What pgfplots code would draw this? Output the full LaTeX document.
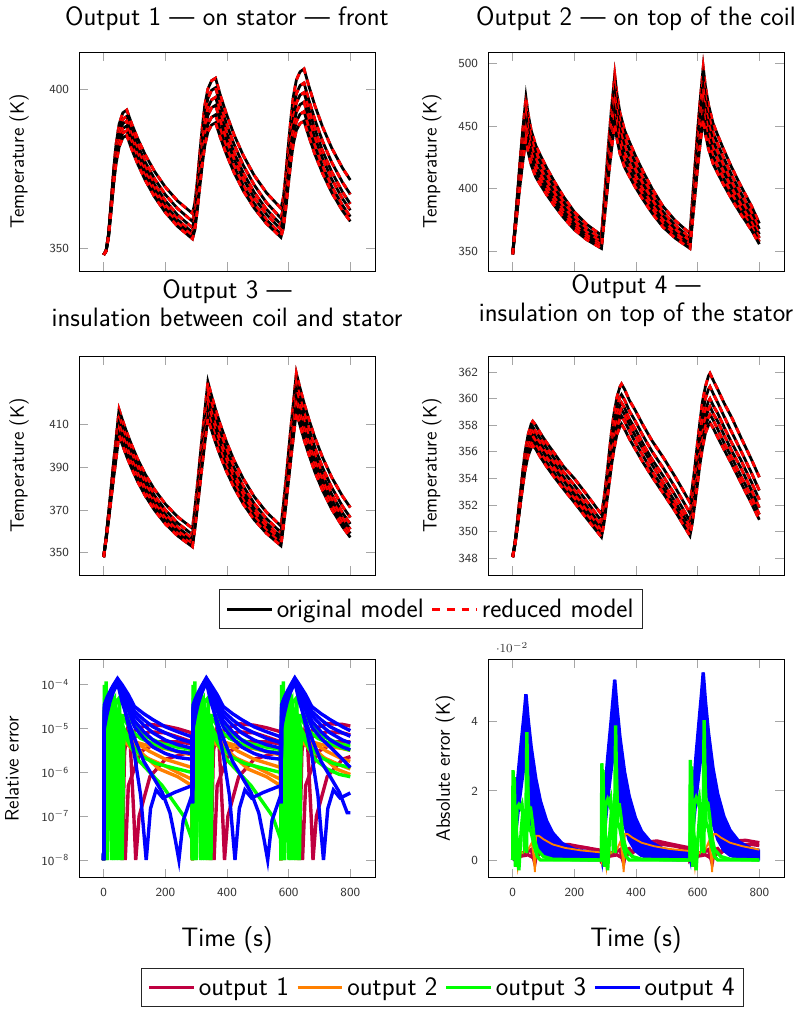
\documentclass[border=0pt]{standalone}
\usepackage{pgfplots}
\usepackage{pgfplotstable}
\pgfplotsset{compat=1.18}
\renewcommand{\familydefault}{\sfdefault}

\pgfplotstableread{
t a b c d e f
0 348 348 348 348 348 348
8 349.4 349.3 349.3 349.2 349.2 349.1
16 354.8 354.5 354.3 354.1 353.9 353.6
24 364.4 363.7 363.1 362.6 362.0 361.5
32 374.4 373.2 372.4 371.5 370.6 369.8
40 382.6 381.1 379.9 378.8 377.6 376.5
50 389.0 387.2 385.8 384.5 383.1 381.8
62 392.6 390.6 389.2 387.7 386.2 384.8
75 393.5 391.5 390.0 388.5 387.0 385.5
90 389.4 387.3 385.8 384.3 382.8 381.4
110 384.6 382.5 380.8 379.3 378.0 376.6
135 379.4 377.1 375.4 373.9 372.6 371.4
165 374.2 371.9 370.1 368.6 367.4 366.2
200 369.3 366.9 365.0 363.5 362.4 361.3
240 364.9 362.5 360.5 359.0 358.0 356.9
288 361.0 358.5 356.5 355.0 354.0 353.0
296 364.4 361.9 359.8 358.2 357.0 355.9
304 371.6 369.0 366.8 365.0 363.5 362.1
312 380.1 377.4 375.0 373.0 371.1 369.4
320 388.2 385.4 382.7 380.6 378.3 376.4
328 395.0 392.1 389.3 387.0 384.4 382.2
338 400.1 397.1 394.2 391.8 389.0 386.6
350 402.7 399.7 396.7 394.2 391.2 388.8
363 403.5 400.5 397.5 395.0 392.0 389.5
378 398.3 395.3 392.5 390.1 387.3 385.0
398 392.3 389.3 386.5 384.3 381.7 379.6
423 385.7 382.7 380.1 378.0 375.7 373.8
453 379.2 376.1 373.7 371.8 369.7 368.1
488 373.0 370.0 367.7 365.9 364.1 362.7
528 367.5 364.4 362.3 360.7 359.0 357.8
575 362.6 359.5 357.5 356.0 354.5 353.5
583 366.1 362.9 360.8 359.2 357.6 356.4
591 373.6 370.1 367.9 366.0 364.1 362.6
599 382.3 378.6 376.2 374.0 371.8 369.9
607 390.6 386.7 384.1 381.6 379.1 376.9
615 397.6 393.5 390.7 388.0 385.3 382.7
625 402.9 398.6 395.7 392.8 389.9 387.1
637 405.5 401.2 398.2 395.2 392.2 389.3
650 406.4 402.0 399.0 396.0 393.0 390.0
665 401.2 396.8 393.8 390.9 388.1 385.3
685 394.9 390.5 387.5 384.8 382.1 379.6
710 388.2 383.7 380.7 378.3 375.8 373.6
740 381.5 377.0 374.0 371.7 369.4 367.5
775 375.2 370.7 367.7 365.6 363.5 361.8
800 371.5 367.0 364.0 362.0 360.0 358.5
}\tA

\pgfplotstableread{
t a b c d e f
0 348 348 348 348 348 348
8 373.0 371.6 370.2 368.8 367.6 366.4
16 398.0 395.2 392.4 389.6 387.2 384.8
24 423.0 418.8 414.6 410.4 406.8 403.2
32 445.5 440.0 434.6 429.1 424.4 419.8
40 465.5 458.9 452.3 445.8 440.1 434.5
43 473 466 459 452 446 440
50 459.8 453.3 446.8 440.4 435.0 429.5
60 446.6 440.6 434.6 428.8 423.9 419.0
75 434.5 428.9 423.5 418.2 413.8 409.4
90 426.8 421.5 416.4 411.5 407.4 403.3
110 416.9 411.9 407.2 402.8 399.1 395.4
135 405.9 401.3 397.1 393.1 389.9 386.7
165 393.8 389.7 385.9 382.5 379.8 377.1
200 381.7 378.0 374.8 371.9 369.6 367.5
240 371.8 368.5 365.6 363.2 361.4 359.6
288 363.0 360.0 357.5 355.5 354.0 352.6
296 388.6 384.6 381.0 377.8 375.2 372.5
304 414.2 409.2 404.5 400.1 396.4 392.4
312 439.8 433.8 428.0 422.4 417.6 412.2
320 462.8 455.9 449.2 442.5 436.7 430.1
328 483.3 475.6 468.0 460.3 453.6 446.0
331 491 483 475 467 460 452
338 475.8 468.4 461.0 453.7 447.3 440.1
348 460.6 453.7 447.0 440.4 434.6 428.1
363 446.7 440.3 434.2 428.2 422.9 417.2
378 437.9 431.8 426.1 420.4 415.5 410.3
398 426.5 420.8 415.6 410.4 405.9 401.3
423 413.8 408.6 403.9 399.3 395.3 391.4
453 399.9 395.2 391.1 387.1 383.7 380.4
488 386.0 381.7 378.3 374.9 372.0 369.5
528 374.6 370.8 367.8 364.9 362.5 360.6
575 364.5 361.0 358.5 356.0 354.0 352.6
583 391.0 386.4 382.8 379.2 376.0 373.3
591 417.5 411.8 407.1 402.4 398.0 394.0
599 444.0 437.2 431.4 425.6 420.0 414.6
607 467.9 460.1 453.3 446.5 439.8 433.3
615 489.1 480.4 472.7 465.0 457.4 449.8
618 497 488 480 472 464 456
625 482.1 473.6 466.1 458.7 451.3 444.0
635 467.1 459.2 452.2 445.4 438.6 432.0
650 452.2 444.8 438.2 432.0 425.8 420.0
665 442.8 435.8 429.5 423.7 417.9 412.5
685 431.0 424.4 418.5 413.2 407.8 403.0
710 417.3 411.2 405.8 401.0 396.2 392.0
740 402.4 396.8 391.8 387.6 383.4 380.0
775 386.2 381.2 376.8 373.2 369.7 367.0
800 372.5 368.0 364.0 361.0 358.0 356.0
}\tB

\pgfplotstableread{
t a b c d e f
0 348 348 348 348 348 348
8 357.7 357.3 357.0 356.7 356.3 356.0
16 368.7 368.0 367.2 366.6 365.9 365.1
24 380.4 379.3 378.1 377.1 376.0 374.8
32 392.2 390.6 389.0 387.7 386.1 384.5
40 403.2 401.2 399.2 397.6 395.6 393.6
50 417 414.5 412 410 407.5 405
60 412.5 410.0 407.5 405.5 403.2 400.8
75 406.3 403.7 401.3 399.4 397.1 394.9
90 400.7 398.0 395.7 393.8 391.7 389.7
110 393.9 391.3 389.0 387.2 385.2 383.3
135 386.7 384.0 381.8 380.0 378.2 376.6
165 379.6 376.8 374.6 373.0 371.4 369.9
200 372.8 370.0 367.9 366.3 364.8 363.5
240 366.8 363.9 361.9 360.3 359.0 357.9
288 361.4 358.5 356.5 355.0 353.8 352.8
296 371.0 368.0 365.7 364.0 362.5 361.2
304 382.0 378.8 376.2 374.2 372.5 370.9
312 393.6 390.2 387.3 385.1 383.0 381.1
320 405.3 401.7 398.4 396.0 393.6 391.3
328 416.3 412.5 408.9 406.2 403.6 401.0
338 430 426 422 419 416 413
348 424.5 420.6 416.8 413.9 411.0 408.2
363 417.0 413.2 409.6 406.8 404.1 401.5
378 410.2 406.4 403.0 400.5 397.9 395.4
398 402.0 398.4 395.2 392.9 390.5 388.2
423 393.2 389.8 386.8 384.7 382.5 380.5
453 384.6 381.2 378.6 376.6 374.6 372.8
488 376.3 373.1 370.7 368.9 367.1 365.5
528 369.0 366.0 363.8 362.1 360.5 359.1
575 362.5 359.5 357.5 356.0 354.5 353.3
583 372.5 369.3 367.0 365.2 363.5 362.1
591 384.0 380.5 377.9 375.8 373.9 372.1
599 396.1 392.4 389.5 387.0 384.8 382.8
607 408.3 404.3 401.0 398.2 395.8 393.4
615 419.7 415.5 411.9 408.8 406.1 403.5
625 434 429.5 425.5 422 419 416
635 428.1 423.6 419.7 416.3 413.4 410.5
650 420.0 415.5 411.7 408.4 405.6 402.9
665 412.7 408.1 404.5 401.3 398.7 396.1
685 403.9 399.3 395.8 392.8 390.3 387.8
710 394.6 389.9 386.6 383.7 381.3 379.1
740 385.2 380.5 377.3 374.6 372.4 370.3
775 376.4 371.7 368.6 366.1 364.0 362.1
800 371.2 366.5 363.5 361.0 359.0 357.2
}\tC

\pgfplotstableread{
t a b c d e f
0 348.1 348.1 348.1 348.1 348.1 348.1
8 349.3 349.3 349.2 349.2 349.1 349.1
16 351.0 350.8 350.7 350.6 350.5 350.5
24 352.7 352.5 352.3 352.2 352.0 351.9
32 354.4 354.2 353.9 353.7 353.5 353.3
40 356.0 355.6 355.3 355.1 354.8 354.6
50 357.3 356.9 356.6 356.3 355.9 355.7
60 358.1 357.7 357.3 357.0 356.6 356.3
65 358.3 357.9 357.5 357.2 356.8 356.5
75 358.0 357.5 357.1 356.8 356.5 356.2
90 357.4 357.0 356.6 356.3 355.9 355.6
110 356.7 356.3 355.9 355.6 355.2 354.9
135 355.9 355.5 355.1 354.8 354.4 354.1
165 354.9 354.5 354.1 353.8 353.4 353.2
200 354.0 353.5 353.1 352.8 352.5 352.2
240 352.8 352.3 351.9 351.6 351.3 351.0
288 351.3 350.8 350.4 350.1 349.8 349.6
296 352.5 351.9 351.5 351.2 350.9 350.6
304 354.0 353.5 353.0 352.6 352.3 352.0
312 355.7 355.1 354.6 354.2 353.8 353.4
320 357.4 356.7 356.2 355.7 355.3 354.9
328 358.8 358.1 357.6 357.1 356.7 356.1
338 360.1 359.4 358.8 358.3 357.8 357.3
348 360.9 360.1 359.5 359.0 358.5 357.9
353 361.1 360.3 359.7 359.2 358.7 358.1
363 360.7 359.9 359.3 358.8 358.3 357.7
378 359.9 359.1 358.5 358.1 357.6 357.0
398 359.1 358.3 357.7 357.2 356.7 356.2
423 358.0 357.2 356.6 356.2 355.7 355.2
453 356.8 356.0 355.4 355.0 354.5 354.1
488 355.6 354.8 354.2 353.7 353.3 352.9
528 354.1 353.3 352.7 352.2 351.8 351.5
575 352.2 351.4 350.8 350.4 350.0 349.7
583 353.4 352.5 351.9 351.5 351.1 350.7
591 354.9 354.1 353.4 352.9 352.5 352.1
599 356.6 355.7 354.9 354.5 354.0 353.5
607 358.2 357.3 356.5 356.0 355.5 355.0
615 359.7 358.7 357.9 357.3 356.8 356.2
625 360.9 360.0 359.1 358.5 357.9 357.4
635 361.7 360.7 359.8 359.2 358.6 358.0
640 361.9 360.9 360.0 359.4 358.8 358.2
650 361.4 360.4 359.5 358.9 358.4 357.8
665 360.7 359.7 358.9 358.3 357.7 357.1
685 359.7 358.7 357.9 357.3 356.7 356.2
710 358.6 357.5 356.7 356.1 355.6 355.1
740 357.1 356.1 355.4 354.8 354.2 353.7
775 355.4 354.4 353.7 353.1 352.6 352.1
800 354.1 353.1 352.4 351.8 351.3 350.9
}\tD

\pgfplotsset{
  base/.style={scale only axis, width=192.2pt, height=142.2pt,
    xmin=-80, xmax=880, xtick={0,200,400,600,800},
    axis line style={line width=0.6pt},
    major tick length=6pt, tick style={gray!70, line width=0.6pt},
    tick label style={font=\fontsize{8}{9.5}\selectfont, text=black!80},
    /pgf/number format/assume math mode=true,
    xticklabel shift=3pt, yticklabel shift=3pt,
    title style={font=\fontsize{17.28}{18.4}\selectfont, align=center, at={(0.5,1)}, anchor=south, yshift=9.5pt},
    every axis y label/.style={at={(axis description cs:0,0.5)}, xshift=-#1, rotate=90, anchor=center, font=\fontsize{12.6}{15}\selectfont},
    every axis x label/.style={at={(axis description cs:0.5,0)}, yshift=-40.3pt, anchor=center, font=\fontsize{17.28}{20}\selectfont},
    legend image code/.code={\draw[##1] (0pt,0pt) -- (29pt,0pt);},
    legend style={draw=black!85, line width=0.6pt, font=\fontsize{17.28}{20}\selectfont, inner ysep=4pt, inner xsep=4pt, anchor=center,
      /tikz/every even column/.append style={column sep=2.5pt}},
  },
  single/.style={title style={yshift=-5pt}},
  orig/.style={black, line width=1.8pt, forget plot},
  redu/.style={red, line width=1.8pt, dash pattern=on 4pt off 4pt, forget plot},
  e1/.style={purple, line width=2.2pt, forget plot},
  e2/.style={orange, line width=2.2pt, forget plot},
  e3/.style={green, line width=2.2pt, forget plot},
  e4/.style={blue, line width=2.2pt, forget plot},
}

\begin{document}
\begin{tikzpicture}
\useasboundingbox (0,0) rectangle (522.1pt,-656.5pt);

% ---------- Output 1
\begin{axis}[base=39pt, single, at={(51.3pt,-33.8pt)}, anchor=north west,
  title={Output 1 — on stator — front}, ylabel={Temperature (K)},
  ymin=342.9, ymax=411.7, ytick={350,400}, xticklabels={}]
\pgfplotsinvokeforeach{a,b,c,d,e,f}{
  \addplot[orig] table[x=t,y=#1]{\tA};
  \addplot[redu] table[x=t,y=#1]{\tA};
}
\end{axis}

% ---------- Output 2
\begin{axis}[base=36.6pt, single, at={(316.9pt,-33.8pt)}, anchor=north west,
  title={Output 2 — on top of the coil}, ylabel={Temperature (K)},
  ymin=334.6, ymax=509, ytick={350,400,450,500}, xticklabels={}]
\pgfplotsinvokeforeach{a,b,c,d,e,f}{
  \addplot[orig] table[x=t,y=#1]{\tB};
  \addplot[redu] table[x=t,y=#1]{\tB};
}
\end{axis}

% ---------- Output 3 (with legend)
\begin{axis}[base=39pt, at={(51.3pt,-231.2pt)}, anchor=north west,
  title={Output 3 —\\insulation between coil and stator}, ylabel={Temperature (K)},
  ymin=339.6, ymax=442, ytick={350,370,390,410}, xticklabels={},
  legend columns=2, legend style={at={(1.190,-0.156)}},
  legend cell align=left]
\addlegendimage{black, line width=2.2pt}
\addlegendentry{original model}
\addlegendimage{red, line width=2.2pt, dash pattern=on 5pt off 4.5pt}
\addlegendentry{reduced model}
\pgfplotsinvokeforeach{a,b,c,d,e,f}{
  \addplot[orig] table[x=t,y=#1]{\tC};
  \addplot[redu] table[x=t,y=#1]{\tC};
}
\end{axis}

% ---------- Output 4
\begin{axis}[base=36.6pt, at={(316.9pt,-231.2pt)}, anchor=north west,
  title={Output 4 —\\insulation on top of the stator}, ylabel={Temperature (K)},
  ymin=346.75, ymax=363.2, ytick={348,350,...,362}, xticklabels={}]
\pgfplotsinvokeforeach{a,b,c,d,e,f}{
  \addplot[orig] table[x=t,y=#1]{\tD};
  \addplot[redu] table[x=t,y=#1]{\tD};
}
\end{axis}

% ---------- Relative error
\begin{axis}[base=43.5pt, at={(51.3pt,-427.9pt)}, anchor=north west,
  ymode=log, ymin=3.9e-9, ymax=3.9e-4, yminorticks=false,
  ytick={1e-8,1e-7,1e-6,1e-5,1e-4},
  yticklabels={10\textsuperscript{$-$8},10\textsuperscript{$-$7},10\textsuperscript{$-$6},10\textsuperscript{$-$5},10\textsuperscript{$-$4}},
  ylabel={Relative error}, xlabel={Time (s)},
  legend columns=4, legend style={at={(1.228,-0.5)}},
  legend cell align=left]
\addlegendimage{purple, line width=2.5pt}\addlegendentry{output 1}
\addlegendimage{orange, line width=2.5pt}\addlegendentry{output 2}
\addlegendimage{green, line width=2.5pt}\addlegendentry{output 3}
\addlegendimage{blue, line width=2.5pt}\addlegendentry{output 4}
% output 1
\addplot[e1] coordinates {(0,1e-8)(5,2e-6)(15,5e-6)(30,8e-6)(45,7e-6)(60,6e-6)(80,7e-6)(110,1e-5)(150,1.25e-5)(200,1.15e-5)(240,1e-5)(286,8e-6)
(288,1e-8)(293,2e-6)(303,5e-6)(318,8e-6)(333,7e-6)(348,6e-6)(368,7e-6)(398,1e-5)(438,1.3e-5)(488,1.2e-5)(528,1.05e-5)(574,8.5e-6)
(575,1e-8)(580,2e-6)(590,5e-6)(605,8e-6)(620,7e-6)(635,6e-6)(655,7e-6)(685,1e-5)(725,1.3e-5)(775,1.25e-5)(800,1.15e-5)};
\addplot[e1] coordinates {(0,1e-8)(10,3e-6)(30,6e-6)(60,3e-6)(80,5e-6)(110,7e-6)(150,8.5e-6)(200,8e-6)(240,6.5e-6)(286,5e-6)
(288,1e-8)(298,3e-6)(318,6e-6)(348,3e-6)(368,5e-6)(398,7e-6)(438,8.5e-6)(488,8e-6)(528,6.5e-6)(574,5e-6)
(575,1e-8)(585,3e-6)(605,6e-6)(635,3e-6)(655,5e-6)(685,7e-6)(725,8.5e-6)(775,8e-6)(800,7.2e-6)};
\addplot[e1] coordinates {(0,1e-8)(10,2e-6)(30,3e-6)(50,1e-6)(60,1e-8)(68,3e-6)(76,8e-6)(86,5e-6)(98,1e-7)(104,1e-8)(115,1e-7)(150,8e-7)(200,2e-6)(286,3e-6)
(288,1e-8)(298,2e-6)(318,3e-6)(338,1e-6)(348,1e-8)(356,3e-6)(364,8e-6)(374,5e-6)(386,1e-7)(392,1e-8)(403,1e-7)(438,8e-7)(488,2e-6)(574,3e-6)
(575,1e-8)(585,2e-6)(605,3e-6)(625,1e-6)(635,1e-8)(643,3e-6)(651,8e-6)(661,5e-6)(673,1e-7)(679,1e-8)(690,1e-7)(725,8e-7)(775,2e-6)(800,2.3e-6)};
\addplot[e1] coordinates {(0,1e-8)(10,1e-6)(40,2e-6)(62,1e-7)(70,1e-8)(80,5e-7)(120,3e-6)(180,5e-6)(240,5e-6)(286,4.5e-6)
(288,1e-8)(298,1e-6)(328,2e-6)(350,1e-7)(358,1e-8)(368,5e-7)(408,3e-6)(468,5e-6)(528,5e-6)(574,4.5e-6)
(575,1e-8)(585,1e-6)(615,2e-6)(637,1e-7)(645,1e-8)(655,5e-7)(695,3e-6)(755,5e-6)(800,5e-6)};
% output 2
\addplot[e2] coordinates {(0,1e-8)(2,3e-5)(10,1.5e-5)(20,2.5e-5)(30,1e-5)(38,2e-5)(46,3e-8)(52,1.2e-5)(70,5e-6)(100,3e-6)(150,2e-6)(200,1.4e-6)(240,1e-6)(286,7e-7)
(288,1e-8)(290,3e-5)(298,1.5e-5)(308,2.5e-5)(318,1e-5)(326,2e-5)(334,3e-8)(340,1.2e-5)(358,5e-6)(388,3e-6)(438,2e-6)(488,1.4e-6)(528,1e-6)(574,7e-7)
(575,1e-8)(577,3e-5)(585,1.5e-5)(595,2.5e-5)(605,1e-5)(613,2e-5)(621,3e-8)(627,1.2e-5)(645,5e-6)(675,3e-6)(725,2e-6)(775,1.4e-6)(800,1.2e-6)};
\addplot[e2] coordinates {(0,1e-8)(3,2e-5)(15,3e-5)(30,2e-5)(45,1.5e-5)(50,3e-8)(56,1e-5)(70,8e-6)(100,5e-6)(150,3e-6)(200,2e-6)(286,1.3e-6)
(288,1e-8)(291,2e-5)(303,3e-5)(318,2e-5)(333,1.5e-5)(338,1e-8)(344,1e-5)(358,8e-6)(388,5e-6)(438,3e-6)(488,2e-6)(574,1.3e-6)
(575,1e-8)(578,2e-5)(590,3e-5)(605,2e-5)(620,1.5e-5)(625,1e-8)(631,1e-5)(645,8e-6)(675,5e-6)(725,3e-6)(775,2e-6)(800,1.8e-6)};
\addplot[e2] coordinates {(0,1e-8)(3,1.5e-5)(20,2e-5)(40,1.5e-5)(60,1e-5)(90,5e-6)(130,2.5e-6)(180,1.2e-6)(240,8e-7)(286,5e-7)
(288,1e-7)(291,1.5e-5)(308,2e-5)(328,1.5e-5)(348,1e-5)(378,5e-6)(418,2.5e-6)(468,1.2e-6)(528,8e-7)(574,5e-7)
(575,1e-7)(578,1.5e-5)(595,2e-5)(615,1.5e-5)(635,1e-5)(665,5e-6)(705,2.5e-6)(755,1.2e-6)(800,9e-7)};
\addplot[e2] coordinates {(0,1e-8)(4,1e-5)(20,1.5e-5)(45,1.2e-5)(70,7e-6)(100,5e-6)(150,4e-6)(200,3.5e-6)(286,2.5e-6)
(288,1e-8)(292,1e-5)(308,1.5e-5)(333,1.2e-5)(358,7e-6)(388,5e-6)(438,4e-6)(488,3.5e-6)(574,2.5e-6)
(575,1e-8)(579,1e-5)(595,1.5e-5)(620,1.2e-5)(645,7e-6)(675,5e-6)(725,4e-6)(775,3.5e-6)(800,3.2e-6)};
% output 3
\addplot[e3] coordinates {(0,1e-8)(2,1e-4)(5,3e-5)(8,1.2e-4)(12,1.3e-7)(18,4e-5)(28,3.5e-5)(35,4.5e-5)(40,1e-8)(45,3e-5)(52,1.5e-5)(60,1e-8)(66,1e-5)(80,6e-6)(100,3.5e-6)(130,2.2e-6)(170,1.6e-6)(220,1.3e-6)(286,1e-6)
(288,1e-8)(290,1e-4)(293,3e-5)(296,1.2e-4)(300,1.3e-7)(306,4e-5)(316,3.5e-5)(323,4.5e-5)(328,1e-8)(333,3e-5)(340,1.5e-5)(348,1e-8)(354,1e-5)(368,6e-6)(388,3.5e-6)(418,2.2e-6)(458,1.6e-6)(508,1.3e-6)(574,1e-6)
(575,1e-8)(577,1e-4)(580,3e-5)(583,1.2e-4)(587,1.3e-7)(593,4e-5)(603,3.5e-5)(610,4.5e-5)(615,1e-8)(620,3e-5)(627,1.5e-5)(635,1e-8)(641,1e-5)(655,6e-6)(675,3.5e-6)(705,2.2e-6)(745,1.6e-6)(800,1.3e-6)};
\addplot[e3] coordinates {(0,1e-8)(3,5e-5)(10,1e-8)(15,4e-5)(22,2e-5)(30,4e-5)(36,1e-7)(42,3e-5)(48,1e-8)(55,2e-5)(70,1.5e-5)(90,9e-6)(120,6e-6)(160,4.5e-6)(200,3.6e-6)(240,3.1e-6)(286,2.8e-6)
(288,1e-8)(291,5e-5)(298,1e-8)(303,4e-5)(310,2e-5)(318,4e-5)(324,1e-7)(330,3e-5)(336,1e-8)(343,2e-5)(358,1.5e-5)(378,9e-6)(408,6e-6)(448,4.5e-6)(488,3.6e-6)(528,3.1e-6)(574,2.8e-6)
(575,1e-8)(578,5e-5)(585,1e-8)(590,4e-5)(597,2e-5)(605,4e-5)(611,1e-7)(617,3e-5)(623,1e-8)(630,2e-5)(645,1.5e-5)(665,9e-6)(695,6e-6)(735,4.5e-6)(775,3.6e-6)(800,3.2e-6)};
\addplot[e3] coordinates {(0,1e-8)(4,8e-5)(14,1e-7)(20,3e-5)(26,1e-8)(33,4e-5)(44,2e-5)(52,3e-5)(58,1e-8)(64,8e-6)(80,5e-6)(110,2e-6)(150,1e-6)(190,5e-7)(230,2e-7)(260,1e-7)(286,3e-8)
(288,1e-8)(292,8e-5)(302,1e-7)(308,3e-5)(314,1e-8)(321,4e-5)(332,2e-5)(340,3e-5)(346,1e-8)(352,8e-6)(368,5e-6)(398,2e-6)(438,1e-6)(478,5e-7)(518,2e-7)(548,1e-7)(574,3e-8)
(575,1e-8)(579,8e-5)(589,1e-7)(595,3e-5)(601,1e-8)(608,4e-5)(619,2e-5)(627,3e-5)(633,1e-8)(639,8e-6)(655,5e-6)(685,2e-6)(725,1.2e-6)(765,9e-7)(800,8e-7)};
\addplot[e3] coordinates {(0,1e-8)(6,4e-5)(12,1e-8)(24,4e-5)(32,1e-8)(38,4e-5)(50,5e-5)(56,2e-7)(62,2e-5)(75,2e-5)(100,1.2e-5)(140,6.5e-6)(190,4.5e-6)(240,3.8e-6)(286,3.4e-6)
(288,1e-8)(294,4e-5)(300,1e-8)(312,4e-5)(320,1e-8)(326,4e-5)(338,5e-5)(344,2e-7)(350,2e-5)(363,2e-5)(388,1.2e-5)(428,6.5e-6)(478,4.5e-6)(528,3.8e-6)(574,3.4e-6)
(575,1e-8)(581,4e-5)(587,1e-8)(599,4e-5)(607,1e-8)(613,4e-5)(625,5e-5)(631,2e-7)(637,2e-5)(650,2e-5)(675,1.2e-5)(715,6.5e-6)(765,4.5e-6)(800,4e-6)};
% output 4
\addplot[e4] coordinates {(0,1e-8)(2,3.5e-5)(10,5e-5)(20,7e-5)(30,9.5e-5)(45,1.4e-4)(60,1e-4)(80,6e-5)(100,3.2e-5)(130,2.2e-5)(160,1.6e-5)(200,1.1e-5)(240,8.5e-6)(286,6.5e-6)
(288,2e-7)(290,3.5e-5)(298,5e-5)(308,7e-5)(318,9.5e-5)(333,1.45e-4)(348,1e-4)(368,6e-5)(388,3.2e-5)(418,2.2e-5)(448,1.6e-5)(488,1.1e-5)(528,8.5e-6)(574,6.5e-6)
(575,2e-7)(577,3.5e-5)(585,5e-5)(595,7e-5)(605,9.5e-5)(620,1.45e-4)(635,1e-4)(655,6e-5)(675,3.2e-5)(705,2.2e-5)(735,1.6e-5)(775,1.1e-5)(800,9e-6)};
\addplot[e4] coordinates {(0,1e-8)(2,3e-5)(10,4.5e-5)(20,6.5e-5)(30,9e-5)(45,1.35e-4)(60,9e-5)(80,5e-5)(100,2.5e-5)(130,1.6e-5)(160,1.1e-5)(200,8e-6)(240,6e-6)(286,4.8e-6)
(288,2e-7)(290,3e-5)(298,4.5e-5)(308,6.5e-5)(318,9e-5)(333,1.4e-4)(348,9e-5)(368,5e-5)(388,2.5e-5)(418,1.6e-5)(448,1.1e-5)(488,8e-6)(528,6e-6)(574,4.8e-6)
(575,2e-7)(577,3e-5)(585,4.5e-5)(595,6.5e-5)(605,9e-5)(620,1.4e-4)(635,9e-5)(655,5e-5)(675,2.5e-5)(705,1.6e-5)(735,1.1e-5)(775,8e-6)(800,6.7e-6)};
\addplot[e4] coordinates {(0,1e-8)(2,2.5e-5)(10,4e-5)(20,6e-5)(30,8.5e-5)(45,1.3e-4)(60,8e-5)(80,4e-5)(100,2e-5)(130,1.2e-5)(160,8e-6)(200,5.5e-6)(240,4.3e-6)(286,3.6e-6)
(288,2e-7)(290,2.5e-5)(298,4e-5)(308,6e-5)(318,8.5e-5)(333,1.35e-4)(348,8e-5)(368,4e-5)(388,2e-5)(418,1.2e-5)(448,8e-6)(488,5.5e-6)(528,4.3e-6)(574,3.6e-6)
(575,2e-7)(577,2.5e-5)(585,4e-5)(595,6e-5)(605,8.5e-5)(620,1.35e-4)(635,8e-5)(655,4e-5)(675,2e-5)(705,1.2e-5)(735,8e-6)(775,5.5e-6)(800,4.7e-6)};
\addplot[e4] coordinates {(0,1e-8)(2,2e-5)(10,3.5e-5)(20,5.5e-5)(30,8e-5)(45,1.25e-4)(60,7e-5)(80,3.3e-5)(100,1.5e-5)(130,8.5e-6)(160,5.5e-6)(200,3.8e-6)(240,3e-6)(286,2.7e-6)
(288,2e-7)(290,2e-5)(298,3.5e-5)(308,5.5e-5)(318,8e-5)(333,1.3e-4)(348,7e-5)(368,3.3e-5)(388,1.5e-5)(418,8.5e-6)(448,5.5e-6)(488,3.8e-6)(528,3e-6)(574,2.7e-6)
(575,2e-7)(577,2e-5)(585,3.5e-5)(595,5.5e-5)(605,8e-5)(620,1.3e-4)(635,7e-5)(655,3.3e-5)(675,1.5e-5)(705,8.5e-6)(735,5.5e-6)(775,3.8e-6)(800,3.3e-6)};
\addplot[e4] coordinates {(0,1e-8)(2,1.5e-5)(10,3e-5)(20,5e-5)(30,7.5e-5)(45,1.2e-4)(60,6e-5)(80,2.6e-5)(100,1.1e-5)(130,6e-6)(160,3.8e-6)(200,2.7e-6)(240,2.2e-6)(286,2e-6)
(288,2e-7)(290,1.5e-5)(298,3e-5)(308,5e-5)(318,7.5e-5)(333,1.25e-4)(348,6e-5)(368,2.6e-5)(388,1.1e-5)(418,6e-6)(448,3.8e-6)(488,2.7e-6)(528,2.2e-6)(574,2e-6)
(575,2e-7)(577,1.5e-5)(585,3e-5)(595,5e-5)(605,7.5e-5)(620,1.25e-4)(635,6e-5)(655,2.6e-5)(675,1.1e-5)(705,6e-6)(735,3.8e-6)(775,2e-6)(800,1.3e-6)};
\addplot[e4] coordinates {(0,1e-8)(2,1.2e-5)(10,2.5e-5)(20,4.5e-5)(30,7e-5)(45,1.15e-4)(60,5e-5)(80,1.2e-5)(100,2.5e-6)(120,3e-7)(138,1e-8)(152,1.5e-7)(170,4e-7)(192,2.6e-7)(230,3.5e-7)(286,5e-7)
(288,2e-7)(290,1.2e-5)(298,2.5e-5)(308,4.5e-5)(318,7e-5)(333,1.2e-4)(348,5e-5)(368,1.2e-5)(388,2.5e-6)(408,3e-7)(426,1e-8)(440,1.5e-7)(458,4e-7)(480,2.6e-7)(518,3.5e-7)(574,5e-7)
(575,2e-7)(577,1.2e-5)(585,2.5e-5)(595,4.5e-5)(605,7e-5)(620,1.2e-4)(635,5e-5)(655,1.2e-5)(675,2.5e-6)(695,3e-7)(713,1e-8)(727,1.5e-7)(745,4e-7)(767,2.6e-7)(800,3.4e-7)};
\addplot[e4] coordinates {(0,1e-8)(2,1e-5)(10,2e-5)(20,4e-5)(30,6.5e-5)(45,1.1e-4)(60,4e-5)(80,1.5e-5)(100,6e-6)(130,1.8e-6)(160,8e-7)(190,3.5e-7)(215,1.2e-7)(232,3e-8)(244,1e-8)(258,8e-8)(286,3e-7)
(288,2e-7)(290,1e-5)(298,2e-5)(308,4e-5)(318,6.5e-5)(333,1.15e-4)(348,4e-5)(368,1.5e-5)(388,6e-6)(418,1.8e-6)(448,8e-7)(478,3.5e-7)(503,1.2e-7)(520,3e-8)(532,1e-8)(546,8e-8)(574,3e-7)
(575,2e-7)(577,1e-5)(585,2e-5)(595,4e-5)(605,6.5e-5)(620,1.15e-4)(635,4e-5)(655,1.5e-5)(675,6e-6)(705,1.8e-6)(735,8e-7)(765,3.5e-7)(790,1.2e-7)(800,1.2e-7)};
\end{axis}

% ---------- Absolute error (values in units of 1e-2 K)
\begin{axis}[base=27.9pt, at={(316.9pt,-427.9pt)}, anchor=north west,
  ymin=-0.52, ymax=5.82, ytick={0,2,4},
  ylabel={Absolute error (K)}, xlabel={Time (s)},
  extra description/.code={\node[anchor=south west, font=\fontsize{8}{9.5}\selectfont, text=black!80, inner sep=1pt] at ([xshift=4pt,yshift=3pt]axis description cs:0,1) {$\cdot 10^{-2}$};}]
% output 1
\addplot[e1] coordinates {(0,0)(10,0.1)(30,0.2)(50,0.25)(60,0.3)(66,0.1)(72,-0.1)(80,0.3)(90,0.32)(100,0.2)(120,0.3)(150,0.45)(180,0.45)(220,0.38)(286,0.28)
(288,0)(298,0.1)(318,0.2)(338,0.25)(348,0.3)(354,0.1)(360,-0.1)(368,0.3)(378,0.33)(388,0.2)(408,0.35)(438,0.52)(468,0.55)(508,0.47)(574,0.35)
(575,0)(585,0.1)(605,0.2)(625,0.25)(635,0.3)(641,0.1)(647,-0.1)(655,0.3)(665,0.33)(675,0.2)(695,0.35)(725,0.55)(755,0.57)(800,0.5)};
\addplot[e1] coordinates {(0,0)(20,0.1)(50,0.15)(70,0.05)(90,0.2)(120,0.3)(160,0.4)(200,0.4)(240,0.35)(286,0.25)
(288,0)(308,0.1)(338,0.15)(358,0.05)(378,0.2)(408,0.35)(448,0.45)(488,0.45)(528,0.4)(574,0.3)
(575,0)(595,0.1)(625,0.15)(645,0.05)(665,0.2)(695,0.35)(735,0.45)(775,0.45)(800,0.42)};
% output 4: band between the upper and the lower of the traced curves
\addplot[blue, fill=blue, line width=1pt, forget plot] coordinates {
(0,0)(3,0.8)(10,1.7)(20,2.7)(30,3.6)(38,4.3)(43,4.8)(50,4.09)(60,3.27)(75,2.35)(90,1.7)(110,1.13)(130,0.78)(160,0.48)(200,0.31)(240,0.24)(286,0.2)
(288,0.1)(291,0.9)(298,1.85)(308,2.95)(318,3.9)(326,4.7)(331,5.22)(338,4.45)(348,3.55)(363,2.54)(378,1.84)(398,1.22)(418,0.83)(448,0.51)(488,0.32)(528,0.25)(574,0.22)
(575,0.1)(578,0.9)(585,1.9)(595,3.05)(605,4.07)(613,4.86)(618,5.43)(625,4.62)(635,3.69)(650,2.64)(665,1.91)(685,1.26)(705,0.86)(735,0.52)(775,0.32)(800,0.28)
(800,0.01)(775,0.02)(735,0.05)(705,0.14)(685,0.28)(665,0.6)(650,1.06)(635,1.89)(625,2.77)(618,3.62)(613,3.16)(605,2.6)(595,1.81)(585,0.9)(578,0.23)(575,0.01)
(574,0.01)(528,0.01)(488,0.02)(448,0.05)(418,0.13)(398,0.27)(378,0.58)(363,1.03)(348,1.82)(338,2.67)(331,3.49)(326,3.05)(318,2.51)(308,1.74)(298,0.87)(291,0.22)(288,0.01)
(286,0.01)(240,0.01)(200,0.01)(160,0.02)(130,0.05)(110,0.12)(90,0.25)(75,0.53)(60,0.94)(50,1.67)(43,3.2)(38,2.8)(30,2.3)(20,1.6)(10,0.8)(3,0.2)(0,0)};
\addplot[e4] coordinates {(0,0)(3,0.8)(10,1.7)(20,2.7)(30,3.6)(38,4.3)(43,4.8)(50,4.09)(60,3.27)(75,2.35)(90,1.7)(110,1.13)(130,0.78)(160,0.48)(200,0.31)(240,0.24)(286,0.2)
(288,0.1)(291,0.9)(298,1.85)(308,2.95)(318,3.9)(326,4.7)(331,5.22)(338,4.45)(348,3.55)(363,2.54)(378,1.84)(398,1.22)(418,0.83)(448,0.51)(488,0.32)(528,0.25)(574,0.22)
(575,0.1)(578,0.9)(585,1.9)(595,3.05)(605,4.07)(613,4.86)(618,5.43)(625,4.62)(635,3.69)(650,2.64)(665,1.91)(685,1.26)(705,0.86)(735,0.52)(775,0.32)(800,0.28)};
\addplot[e4] coordinates {(0,0)(3,0.6)(10,1.4)(20,2.3)(30,3.2)(38,3.9)(43,4.4)(50,3.68)(60,2.85)(75,1.96)(90,1.36)(110,0.86)(130,0.55)(160,0.32)(200,0.19)(240,0.14)(286,0.12)
(288,0.08)(291,0.65)(298,1.53)(308,2.5)(318,3.49)(326,4.25)(331,4.8)(338,4.01)(348,3.1)(363,2.13)(378,1.47)(398,0.92)(418,0.59)(448,0.33)(488,0.19)(528,0.14)(574,0.12)
(575,0.08)(578,0.68)(585,1.58)(595,2.6)(605,3.62)(613,4.41)(618,4.97)(625,4.15)(635,3.21)(650,2.21)(665,1.52)(685,0.95)(705,0.61)(735,0.34)(775,0.2)(800,0.15)};
\addplot[e4] coordinates {(0,0)(3,0.4)(10,1.2)(20,2.0)(30,2.9)(38,3.5)(43,4.0)(50,3.27)(60,2.45)(75,1.6)(90,1.05)(110,0.61)(130,0.36)(160,0.19)(200,0.1)(240,0.07)(286,0.06)
(288,0.05)(291,0.44)(298,1.31)(308,2.18)(318,3.16)(326,3.82)(331,4.36)(338,3.55)(348,2.66)(363,1.73)(378,1.14)(398,0.66)(418,0.39)(448,0.2)(488,0.1)(528,0.07)(574,0.06)
(575,0.05)(578,0.45)(585,1.36)(595,2.26)(605,3.28)(613,3.96)(618,4.52)(625,3.68)(635,2.76)(650,1.8)(665,1.18)(685,0.68)(705,0.4)(735,0.2)(775,0.1)(800,0.08)};
\addplot[e4] coordinates {(0,0)(3,0.3)(10,1.0)(20,1.8)(30,2.6)(38,3.1)(43,3.6)(50,2.86)(60,2.05)(75,1.26)(90,0.78)(110,0.41)(130,0.23)(160,0.1)(200,0.05)(240,0.03)(286,0.03)
(288,0.03)(291,0.33)(298,1.09)(308,1.96)(318,2.83)(326,3.38)(331,3.92)(338,3.11)(348,2.24)(363,1.37)(378,0.84)(398,0.45)(418,0.24)(448,0.11)(488,0.05)(528,0.03)(574,0.03)
(575,0.03)(578,0.34)(585,1.13)(595,2.03)(605,2.94)(613,3.5)(618,4.07)(625,3.23)(635,2.32)(650,1.42)(665,0.87)(685,0.46)(705,0.25)(735,0.11)(775,0.05)(800,0.04)};
\addplot[e4] coordinates {(0,0)(3,0.2)(10,0.8)(20,1.6)(30,2.3)(38,2.8)(43,3.2)(50,2.45)(60,1.67)(75,0.94)(90,0.53)(110,0.25)(130,0.12)(160,0.045)(200,0.015)(240,0.01)(286,0.01)
(288,0.01)(291,0.22)(298,0.87)(308,1.74)(318,2.51)(326,3.05)(331,3.49)(338,2.67)(348,1.82)(363,1.03)(378,0.58)(398,0.27)(418,0.13)(448,0.05)(488,0.02)(528,0.01)(574,0.01)
(575,0.01)(578,0.23)(585,0.9)(595,1.81)(605,2.6)(613,3.16)(618,3.62)(625,2.77)(635,1.89)(650,1.06)(665,0.6)(685,0.28)(705,0.14)(735,0.05)(775,0.02)(800,0.01)};
% output 2
\addplot[orange, line width=1.2pt, forget plot] coordinates {(0,0)(3,0.3)(8,0.5)(12,0.1)(16,-0.2)(22,0.3)(30,0.2)(50,0.3)(62,0.5)(68,0.1)(72,-0.35)(76,0.7)(85,0.7)(100,0.6)(130,0.45)(170,0.35)(220,0.28)(286,0.22)
(288,0.05)(291,0.3)(296,0.5)(300,0.1)(304,-0.2)(310,0.3)(318,0.2)(338,0.3)(350,0.55)(356,0.1)(360,-0.35)(364,0.75)(373,0.75)(388,0.65)(418,0.5)(458,0.4)(508,0.32)(574,0.26)
(575,0.05)(578,0.3)(583,0.5)(587,0.1)(591,-0.2)(597,0.3)(605,0.2)(625,0.3)(637,0.55)(643,0.1)(647,-0.35)(651,0.75)(660,0.75)(675,0.65)(705,0.5)(745,0.4)(800,0.3)};
% output 3
\addplot[e3] coordinates {(0,0)(1,2.6)(3,2.2)(5,2.4)(8,1.0)(10,0.2)(14,1.5)(20,1.6)(26,1.5)(30,1.6)(34,1.2)(38,0.4)(42,0.5)(46,3.7)(49,2.0)(52,1.5)(58,1.5)(64,1.1)(70,0.6)(80,0.3)(100,0.1)(130,0.02)(286,0)
(288,0)(289,2.8)(291,2.4)(293,2.6)(296,1.0)(298,0.2)(302,1.6)(308,1.75)(314,1.6)(318,1.75)(322,1.3)(326,0.4)(330,0.5)(334,3.9)(337,2.1)(340,1.6)(346,1.6)(352,1.2)(358,0.65)(368,0.3)(388,0.1)(418,0.02)(574,0)
(575,0)(576,2.9)(578,2.5)(580,2.7)(583,1.0)(585,0.2)(589,1.65)(595,1.8)(601,1.65)(605,1.8)(609,1.35)(613,0.4)(617,0.5)(621,4.05)(624,2.2)(627,1.7)(633,1.65)(639,1.25)(645,0.7)(655,0.3)(675,0.1)(705,0.02)(800,0)};
\addplot[e3] coordinates {(0,0)(2,1.8)(4,2.4)(6,0.6)(9,-0.2)(12,0.8)(16,0.5)(20,-0.3)(24,0.3)(28,0.9)(33,1.4)(40,1.0)(45,0.2)(48,2.5)(52,1.0)(60,0.8)(70,0.4)(80,0.1)(90,0)(286,0)
(288,0)(290,2.0)(292,2.6)(294,0.6)(297,-0.2)(300,0.8)(304,0.5)(308,-0.3)(312,0.3)(316,0.9)(321,1.5)(328,1.1)(333,0.2)(336,2.7)(340,1.1)(348,0.9)(358,0.4)(368,0.1)(378,0)(574,0)
(575,0)(577,2.1)(579,2.7)(581,0.6)(584,-0.2)(587,0.8)(591,0.5)(595,-0.3)(599,0.3)(603,0.9)(608,1.5)(615,1.1)(620,0.2)(623,2.8)(627,1.1)(635,0.9)(645,0.4)(655,0.1)(665,0)(800,0)};
\end{axis}
\end{tikzpicture}
\end{document}
